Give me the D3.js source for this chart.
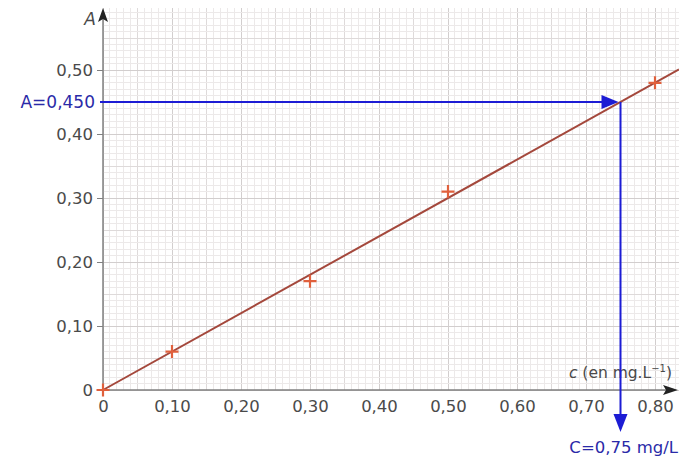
<!DOCTYPE html>
<html><head><meta charset="utf-8">
<script src="https://cdn.jsdelivr.net/npm/d3@7/dist/d3.min.js"></script>
<style>html,body{margin:0;padding:0;background:#fff;}svg{display:block;}</style>
</head><body>
<svg id="chart" width="679" height="468"></svg>
<script>
// ---- data ----
const concentrations = [0, 0.10, 0.30, 0.50, 0.80];
const absorbances = [0, 0.06, 0.17, 0.31, 0.48];
const xTickValues = [0, 0.10, 0.20, 0.30, 0.40, 0.50, 0.60, 0.70, 0.80];
const xTickLabels = ["0", "0,10", "0,20", "0,30", "0,40", "0,50", "0,60", "0,70", "0,80"];
const yTickValues = [0, 0.10, 0.20, 0.30, 0.40, 0.50];
const yTickLabels = ["0", "0,10", "0,20", "0,30", "0,40", "0,50"];
const fitSlope = [0.6];
const readA = [0.450];
const readC = [0.75];

const svg = d3.select("#chart");
const x = d3.scaleLinear().domain([0, 0.8]).range([103, 655]);
const y = d3.scaleLinear().domain([0, 0.5]).range([390, 70]);
const xMax = x.invert(679), yMax = y.invert(8);

// grid
const g = svg.append("g");
const xs = d3.range(0, Math.floor(xMax * 100) + 1).map(i => i / 100);
const ys = d3.range(0, Math.floor(yMax * 100) + 1).map(i => i / 100);
function gridCol(i) { return i % 10 === 0 ? "#d2cece" : (i % 5 === 0 ? "#dedada" : "#ece9e9"); }
xs.forEach((v, i) => g.append("line").attr("x1", x(v)).attr("x2", x(v)).attr("y1", y(0)).attr("y2", y(yMax))
  .attr("stroke", gridCol(i)).attr("stroke-width", 1).attr("shape-rendering", "crispEdges"));
ys.forEach((v, i) => g.append("line").attr("y1", y(v)).attr("y2", y(v)).attr("x1", x(0)).attr("x2", 679)
  .attr("stroke", gridCol(i)).attr("stroke-width", 1).attr("shape-rendering", "crispEdges"));

// axes
const axisCol = "#808080";
svg.append("line").attr("x1", x(0)).attr("x2", 670).attr("y1", y(0)).attr("y2", y(0)).attr("stroke", axisCol).attr("stroke-width", 1.5);
svg.append("line").attr("x1", x(0)).attr("x2", x(0)).attr("y1", y(0)).attr("y2", 14).attr("stroke", axisCol).attr("stroke-width", 1.5);
svg.append("path").attr("d", `M${x(0)},8 L${x(0) - 5},22 L${x(0)},19 L${x(0) + 5},22 Z`).attr("fill", "#222");
svg.append("path").attr("d", `M678,${y(0)} L663,${y(0) - 5} L666,${y(0)} L663,${y(0) + 5} Z`).attr("fill", "#222");

const yAxis = d3.axisLeft(y).tickValues(yTickValues).tickFormat((d, i) => yTickLabels[i]).tickSize(6).tickPadding(4);
const ya = svg.append("g").attr("transform", `translate(${x(0)},0)`).call(yAxis);
ya.select(".domain").remove();
ya.selectAll("line").attr("stroke", "#808080");
ya.selectAll("text").attr("fill", "#4a4a4a").style("font-family", "DejaVu Sans").style("font-size", "16.5px");

const xAxis = d3.axisBottom(x).tickValues(xTickValues).tickFormat((d, i) => xTickLabels[i]).tickSize(0).tickPadding(10);
const xa = svg.append("g").attr("transform", `translate(0,${y(0)})`).call(xAxis);
xa.select(".domain").remove();
xa.selectAll("text").attr("fill", "#4a4a4a").style("font-family", "DejaVu Sans").style("font-size", "16.5px");

// axis titles
svg.append("text").attr("x", 96).attr("y", 25).attr("text-anchor", "end").attr("fill", "#4a4a4a")
  .style("font-family", "DejaVu Sans").style("font-style", "italic").style("font-size", "17px").text("A");
const ct = svg.append("text").attr("x", 672).attr("y", 378).attr("text-anchor", "end").attr("fill", "#4a4a4a")
  .style("font-family", "DejaVu Sans").style("font-size", "15.5px");
ct.append("tspan").style("font-style", "italic").text("c");
ct.append("tspan").text(" (en mg.L");
ct.append("tspan").attr("dy", -6).style("font-size", "10px").text("−1");
ct.append("tspan").attr("dy", 6).text(")");

// fit line
const xEnd = xMax;
svg.append("line").attr("x1", x(0)).attr("y1", y(0)).attr("x2", x(xEnd)).attr("y2", y(fitSlope[0] * xEnd))
  .attr("stroke", "#a4483c").attr("stroke-width", 2);

// crosses
const cs = 6.5;
svg.selectAll(".pt").data(concentrations).enter().append("path")
  .attr("d", (d, i) => `M${x(d) - cs},${y(absorbances[i])} H${x(d) + cs} M${x(d)},${y(absorbances[i]) - cs} V${y(absorbances[i]) + cs}`)
  .attr("stroke", "#e0603c").attr("stroke-width", 2.2).attr("fill", "none");

// reading lines
const blue = "#1c1cd4";
const ax = x(readC[0]), ay = y(readA[0]);
svg.append("line").attr("x1", 100).attr("x2", ax - 16).attr("y1", ay).attr("y2", ay).attr("stroke", blue).attr("stroke-width", 2);
svg.append("path").attr("d", `M${ax - 2},${ay} L${ax - 19},${ay - 7} L${ax - 19},${ay + 7} Z`).attr("fill", blue);
svg.append("line").attr("x1", ax).attr("x2", ax).attr("y1", ay).attr("y2", 416).attr("stroke", blue).attr("stroke-width", 2);
svg.append("path").attr("d", `M${ax},432 L${ax - 7},414 L${ax + 7},414 Z`).attr("fill", blue);

svg.append("text").attr("x", 95).attr("y", ay + 6).attr("text-anchor", "end").attr("fill", "#2a2aa8")
  .style("font-family", "DejaVu Sans").style("font-size", "17px").text("A=0,450");
svg.append("text").attr("x", 678).attr("y", 453).attr("text-anchor", "end").attr("fill", "#2a2aa8")
  .style("font-family", "DejaVu Sans").style("font-size", "16.5px").text("C=0,75 mg/L");
</script>
</body></html>
